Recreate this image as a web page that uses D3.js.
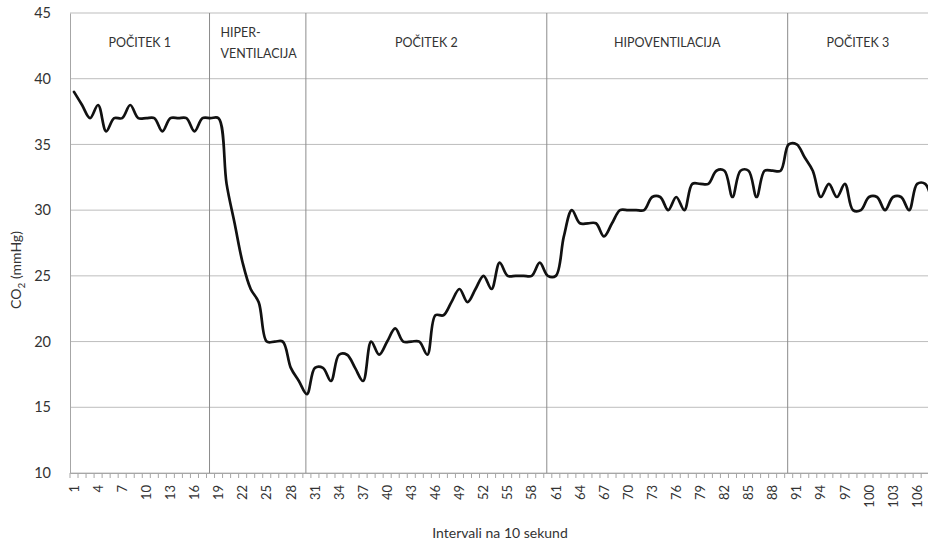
<!DOCTYPE html>
<html>
<head>
<meta charset="utf-8">
<script src="https://cdn.jsdelivr.net/npm/d3@7/dist/d3.min.js"></script>
<style>
  html, body { margin: 0; padding: 0; background: #fff; }
  svg { display: block; }
  text { font-family: Lato, "Open Sans", sans-serif; fill: #333; }
</style>
</head>
<body>
<svg id="chart" width="928" height="543"></svg>
<script>
// CO2 readings, one per 10-second interval
const intervals = d3.range(1, 109);
const co2 = [
  39, 38, 37, 38, 36, 37, 37, 38, 37, 37,
  37, 36, 37, 37, 37, 36, 37, 37, 37, 32,
  29, 26, 24, 23, 20, 20, 20, 18, 17, 16,
  18, 18, 17, 19, 19, 18, 17, 20, 19, 20,
  21, 20, 20, 20, 19, 22, 22, 23, 24, 23,
  24, 25, 24, 26, 25, 25, 25, 25, 26, 25,
  25, 28, 30, 29, 29, 29, 28, 29, 30, 30,
  30, 30, 31, 31, 30, 31, 30, 32, 32, 32,
  33, 33, 31, 33, 33, 31, 33, 33, 33, 35,
  35, 34, 33, 31, 32, 31, 32, 30, 30, 31,
  31, 30, 31, 31, 30, 32, 32, 30
];
// Phase boundaries (interval at which each divider sits) and phase names
const phaseBreaks = [18, 30, 60, 90];
const phaseNames = ["POČITEK 1", ["HIPER-", "VENTILACIJA"], "POČITEK 2", "HIPOVENTILACIJA", "POČITEK 3"];
const yTicks = [10, 15, 20, 25, 30, 35, 40, 45];

const svg = d3.select("#chart");
const plotLeft = 70, plotTop = 13, plotBottom = 473, step = 8.03;
const plotRight = plotLeft + intervals.length * step;

const x = d3.scaleBand().domain(intervals).range([plotLeft, plotRight]).padding(0);
const cx = d => x(d) + x.bandwidth() / 2;
const y = d3.scaleLinear().domain([10, 45]).range([plotBottom, plotTop]);

// horizontal gridlines
svg.append("g").selectAll("line").data(yTicks).join("line")
  .attr("x1", plotLeft).attr("x2", 928)
  .attr("y1", d => y(d)).attr("y2", d => y(d))
  .attr("stroke", "#bdbdbd").attr("stroke-width", 1);

// y axis labels (no tick marks)
const yAxis = d3.axisLeft(y).tickValues(yTicks).tickSize(0).tickPadding(19);
const gy = svg.append("g").attr("transform", `translate(${plotLeft},0)`).call(yAxis);
gy.select(".domain").attr("stroke", "#a6a6a6");
gy.selectAll("text").style("font-size", "14.5px").style("font-family", "Lato, sans-serif").attr("fill", "#333");

// x axis: tick marks between intervals, labels every third interval
const xAxis = d3.axisBottom(x).tickValues(intervals.filter(d => (d - 1) % 3 === 0)).tickSize(0);
const gx = svg.append("g").attr("transform", `translate(0,${plotBottom})`).call(xAxis);
gx.select(".domain").attr("stroke", "#a6a6a6");
gx.selectAll("text")
  .attr("transform", "rotate(-90)")
  .attr("text-anchor", "end")
  .attr("x", -12).attr("y", 0).attr("dy", "0.36em")
  .style("font-size", "13px").style("font-family", "Lato, sans-serif").attr("fill", "#333");
svg.append("g").selectAll("line").data(intervals.concat([intervals.length + 1])).join("line")
  .attr("x1", d => plotLeft + (d - 1) * step).attr("x2", d => plotLeft + (d - 1) * step)
  .attr("y1", plotBottom).attr("y2", plotBottom + 5)
  .attr("stroke", "#a6a6a6");

// phase dividers
svg.append("g").selectAll("line").data(phaseBreaks).join("line")
  .attr("x1", d => cx(d) - 1).attr("x2", d => cx(d) - 1)
  .attr("y1", plotTop).attr("y2", plotBottom)
  .attr("stroke", "#8c8c8c").attr("stroke-width", 1);

// phase names
const edges = [plotLeft].concat(phaseBreaks.map(d => cx(d) - 1)).concat([928]);
const gp = svg.append("g").style("font-size", "12.5px");
phaseNames.forEach((name, i) => {
  if (Array.isArray(name)) {
    const t = gp.append("text").attr("x", edges[i] + 11).attr("y", 37);
    name.forEach((ln, j) => t.append("tspan").attr("x", edges[i] + 11).attr("dy", j === 0 ? 0 : 21).text(ln));
  } else {
    gp.append("text").attr("x", (edges[i] + edges[i + 1]) / 2).attr("y", 47)
      .attr("text-anchor", "middle").text(name);
  }
});

// CO2 line
const line = d3.line().x((d, i) => cx(intervals[i])).y(d => y(d)).curve(d3.curveCatmullRom.alpha(0.5));
svg.append("path").datum(co2).attr("d", line)
  .attr("fill", "none").attr("stroke", "#111").attr("stroke-width", 2.7)
  .attr("stroke-linejoin", "round").attr("stroke-linecap", "round");

// axis titles
const yt = svg.append("text").attr("transform", "translate(21,270) rotate(-90)")
  .attr("text-anchor", "middle").style("font-size", "14px");
yt.append("tspan").text("CO");
yt.append("tspan").attr("dy", 4).style("font-size", "10px").text("2");
yt.append("tspan").attr("dy", -4).text(" (mmHg)");

svg.append("text").attr("x", 500).attr("y", 538).attr("text-anchor", "middle")
  .style("font-size", "14px").text("Intervali na 10 sekund");
</script>
</body>
</html>
